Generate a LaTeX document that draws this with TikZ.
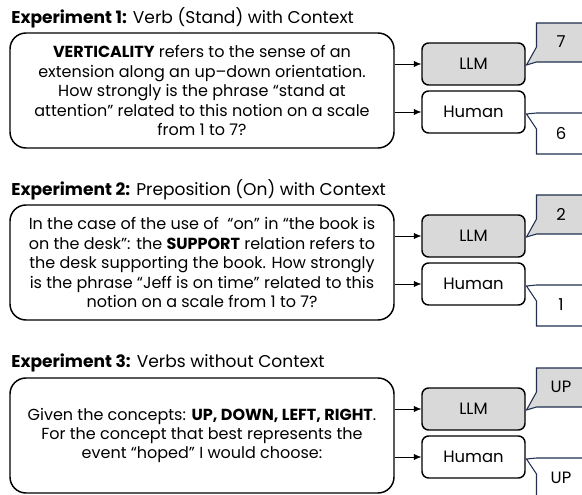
\documentclass[tikz,border=0pt]{standalone}
\usepackage{fontspec}
\setmainfont{Poppins}
\usepackage{tikz}
\usetikzlibrary{arrows.meta,positioning,calc}
\definecolor{calloutline}{HTML}{1F3050}
\definecolor{llmgray}{HTML}{D9D9D9}

\begin{document}
\begin{tikzpicture}[x=0.75pt,y=-0.75pt,
    prompt/.style={draw,line width=1.1pt,rounded corners=12pt,minimum width=288pt,minimum height=86.25pt,align=center,inner sep=2pt,font=\fontsize{12}{14.6}\selectfont},
    rater/.style={draw,line width=1.1pt,rounded corners=5pt,minimum width=77.25pt,minimum height=31.5pt,font=\fontsize{12.3}{14}\selectfont},
    title/.style={anchor=west,inner sep=0pt,font=\fontsize{12.8}{15}\selectfont},
    frame/.style={draw=calloutline,line width=0.8pt},
    score/.style={font=\fontsize{12.3}{14}\selectfont}]
    \useasboundingbox (0,0) rectangle (582,495);
    \clip (0,0) rectangle (582,495);

    % Titles
    \node[title] (title1) at (11,18) {\textbf{Experiment 1:} Verb (Stand) with Context};
    \node[title] (title2) at (11,190) {\textbf{Experiment 2:} Preposition (On) with Context};
    \node[title] (title3) at (11,363) {\textbf{Experiment 3:} Verbs without Context};

    % Prompts
    \node[prompt] (prompt1) at (202,90.5) {\textbf{VERTICALITY} refers to the sense of an\\
        extension along an up–down orientation.\\
        How strongly is the phrase “stand at\\
        attention” related to this notion on a scale\\
        from 1 to 7?};
    \node[prompt] (prompt2) at (202,262.5) {In the case of the use of \ “on” in “the book is\\
        on the desk”: the \textbf{SUPPORT} relation refers to\\
        the desk supporting the book. How strongly\\
        is the phrase “Jeff is on time” related to this\\
        notion on a scale from 1 to 7?};
    \node[prompt] (prompt3) at (202,435.5) {Given the concepts: \textbf{UP, DOWN, LEFT, RIGHT}.\\
        For the concept that best represents the\\
        event “hoped” I would choose:};

    % Raters, answers and arrows
    \foreach \i/\o/\a/\b in {1/0/7/6, 2/172/2/1, 3/345/UP/UP} {
        \node[rater,fill=llmgray] (llm\i) at (473.5,64+\o) {LLM};
        \node[rater] (human\i) at (473.5,112+\o) {Human};
        \draw[-{Latex[length=5.5pt,width=4.5pt]}] (prompt\i.east |- llm\i.west) -- (llm\i.west);
        \draw[-{Latex[length=5.5pt,width=4.5pt]}] (prompt\i.east |- human\i.west) -- (human\i.west);
        % callouts
        \draw[frame,fill=llmgray] (600,23+\o) -- (536.5,23+\o) -- (536.5,47+\o) -- (526.5,65+\o) -- (536.5,62+\o) -- (600,62+\o);
        \draw[frame,fill=white] (600,113+\o) -- (536.5,113+\o) -- (526.5,114+\o) -- (536.5,129+\o) -- (536.5,154+\o) -- (600,154+\o);
        \node[score] (llmscore\i) at (561,42+\o) {\a};
        \node[score] (humanscore\i) at (561,133+\o) {\b};
    }
\end{tikzpicture}
\end{document}
